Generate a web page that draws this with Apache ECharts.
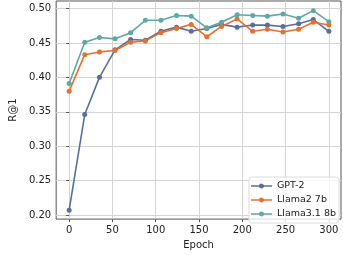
<!DOCTYPE html>
<html>
<head>
<meta charset="utf-8">
<script src="https://cdn.jsdelivr.net/npm/echarts@6/dist/echarts.min.js"></script>
<style>html,body{margin:0;padding:0;background:#fff;}#c{width:343px;height:255px;}</style>
</head>
<body>
<div id="c"></div>
<script>
const epochs = [0, 18, 35, 53, 71, 88, 106, 124, 141, 159, 176, 194, 212, 229, 247, 265, 282, 300];
const gpt2 = [0.207, 0.346, 0.400, 0.440, 0.455, 0.454, 0.467, 0.473, 0.467, 0.471, 0.477, 0.473, 0.476, 0.476, 0.474, 0.478, 0.484, 0.467];
const llama2 = [0.380, 0.433, 0.437, 0.439, 0.451, 0.453, 0.465, 0.471, 0.477, 0.459, 0.474, 0.485, 0.467, 0.470, 0.466, 0.470, 0.480, 0.476];
const llama31 = [0.391, 0.451, 0.458, 0.456, 0.465, 0.483, 0.483, 0.490, 0.489, 0.472, 0.480, 0.491, 0.490, 0.489, 0.492, 0.486, 0.497, 0.481];
const xTicks = [0, 50, 100, 150, 200, 250, 300];
const yTicks = [0.20, 0.25, 0.30, 0.35, 0.40, 0.45, 0.50];
const names = ['GPT-2', 'Llama2 7b', 'Llama3.1 8b'];
const colors = ['#5a6d9c', '#e6702c', '#5fa8a3'];

const font = 'DejaVu Sans';
function pairs(ys) { return epochs.map((e, i) => [e, ys[i]]); }
const chart = echarts.init(document.getElementById('c'));
const mkSeries = (name, ys, color) => ({
  name: name, type: 'line', data: pairs(ys),
  symbol: 'circle', symbolSize: 5, showSymbol: true,
  lineStyle: { color: color, width: 1.6 },
  itemStyle: { color: color },
  animation: false, z: 3
});
const legendIcon = 'path://M0,2.4L7.6,2.4A2.6,2.6,0,0,1,12.4,2.4L20,2.4L20,3.6L12.4,3.6A2.6,2.6,0,0,1,7.6,3.6L0,3.6Z';
chart.setOption({
  animation: false,
  grid: { left: 36, right: 2, top: 1, bottom: 27, show: true, borderColor: '#555', borderWidth: 1, backgroundColor: 'transparent' },
  legend: {
    orient: 'vertical', right: 4, bottom: 32,
    data: names,
    itemWidth: 21, itemHeight: 5.2, itemGap: 4,
    icon: legendIcon,
    textStyle: { fontFamily: font, fontSize: 9.5, color: '#222' },
    borderColor: '#ddd', borderWidth: 1, borderRadius: 3,
    backgroundColor: 'rgba(255,255,255,0.8)',
    padding: [4, 3, 4, 2]
  },
  xAxis: {
    type: 'value', min: -15, max: 314,
    name: 'Epoch', nameLocation: 'middle', nameGap: 18,
    nameTextStyle: { fontFamily: font, fontSize: 10, color: '#222' },
    axisLine: { show: false },
    axisTick: { show: true, customValues: xTicks, length: 3, lineStyle: { color: '#555' } },
    axisLabel: { customValues: xTicks, fontFamily: font, fontSize: 10, color: '#222', margin: 6 },
    splitLine: { show: true, lineStyle: { color: '#d4d4d4', width: 1 } }
  },
  yAxis: {
    type: 'value', min: 0.194, max: 0.511,
    name: 'R@1', nameLocation: 'middle', nameGap: 28, nameRotate: 90,
    nameTextStyle: { fontFamily: font, fontSize: 10, color: '#222' },
    axisLine: { show: false },
    axisTick: { show: true, customValues: yTicks, length: 3, lineStyle: { color: '#555' } },
    axisLabel: { customValues: yTicks, fontFamily: font, fontSize: 10, color: '#222', margin: 5,
      formatter: v => v.toFixed(2) },
    splitLine: { show: true, lineStyle: { color: '#d4d4d4', width: 1 } }
  },
  series: [
    mkSeries(names[0], gpt2, colors[0]),
    mkSeries(names[1], llama2, colors[1]),
    mkSeries(names[2], llama31, colors[2])
  ]
});
</script>
</body>
</html>
